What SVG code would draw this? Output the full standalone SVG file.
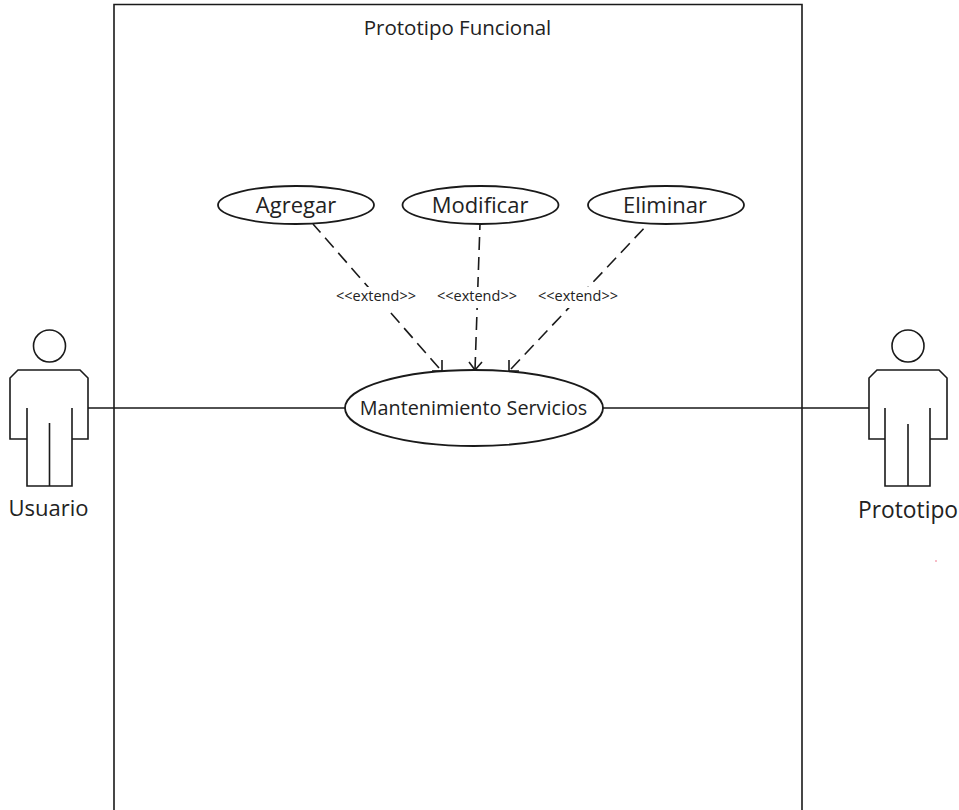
<svg xmlns="http://www.w3.org/2000/svg" width="959" height="810" viewBox="0 0 959 810">
<style>
.s{fill:none;stroke:#1a1a1a;stroke-width:1.6}
.u{fill:#fff;stroke:#1a1a1a;stroke-width:1.8}
.d{fill:none;stroke:#1a1a1a;stroke-width:1.6;stroke-dasharray:13 7}
text{font-family:"Open Sans","Noto Sans","Liberation Sans",sans-serif;fill:#222;text-anchor:middle}
.a{font-size:22px}
.e{font-size:14.500px}
</style>
<rect width="959" height="810" fill="#fff"/>
<g id="system-boundary">
<path class="s" d="M114 810V4.500H802V810"/>
<text x="457.500" y="35" font-size="20.500">Prototipo Funcional</text>
</g>
<g id="connectors">
<path class="s" d="M88 408H345M603 408H869"/>
<path class="d" d="M439 368L313 224"/>
<path class="d" d="M475 370L480 224"/>
<path class="d" d="M511 369L648 224"/>
<path class="s" d="M442 360V371H432"/>
<path class="s" d="M469 362L475 370L482 362"/>
<path class="s" d="M509 360V371H519"/>
</g>
<g id="label-extend-1"><rect x="333" y="287" width="86" height="25" fill="#fff"/><text class="e" x="376" y="301">&lt;&lt;extend&gt;&gt;</text></g>
<g id="label-extend-2"><rect x="435" y="287" width="85" height="21" fill="#fff"/><text class="e" x="477" y="301">&lt;&lt;extend&gt;&gt;</text></g>
<g id="label-extend-3"><rect x="536" y="287" width="85" height="21" fill="#fff"/><text class="e" x="578" y="301">&lt;&lt;extend&gt;&gt;</text></g>
<g id="agregar"><ellipse class="u" cx="296" cy="205" rx="78" ry="19"/><text class="a" x="296" y="213">Agregar</text></g>
<g id="modificar"><ellipse class="u" cx="480.500" cy="205" rx="78" ry="19"/><text class="a" x="480" y="213">Modificar</text></g>
<g id="eliminar"><ellipse class="u" cx="666" cy="205" rx="78" ry="19"/><text class="a" x="665" y="213">Eliminar</text></g>
<g id="mantenimiento"><ellipse class="u" cx="474" cy="408" rx="129" ry="38"/><text x="473.500" y="415" font-size="19.800">Mantenimiento Servicios</text></g>
<g id="actor-usuario">
<circle class="s" cx="49.500" cy="346" r="16"/>
<path class="s" d="M27 439H10V378L18 370H80L88 378V439H72M27 408V486H72V408M49.500 423V486"/>
<text x="48.500" y="516" font-size="22">Usuario</text>
</g>
<g id="actor-prototipo">
<circle class="s" cx="908" cy="346" r="16"/>
<path class="s" d="M885 439H869V378L877 370H939L947 378V439H930M885 408V486H930V408M908 424V486"/>
<text x="908" y="518" font-size="22.800">Prototipo</text>
</g>
<circle cx="936" cy="561" r="1" fill="#f4a6b4"/>
</svg>
